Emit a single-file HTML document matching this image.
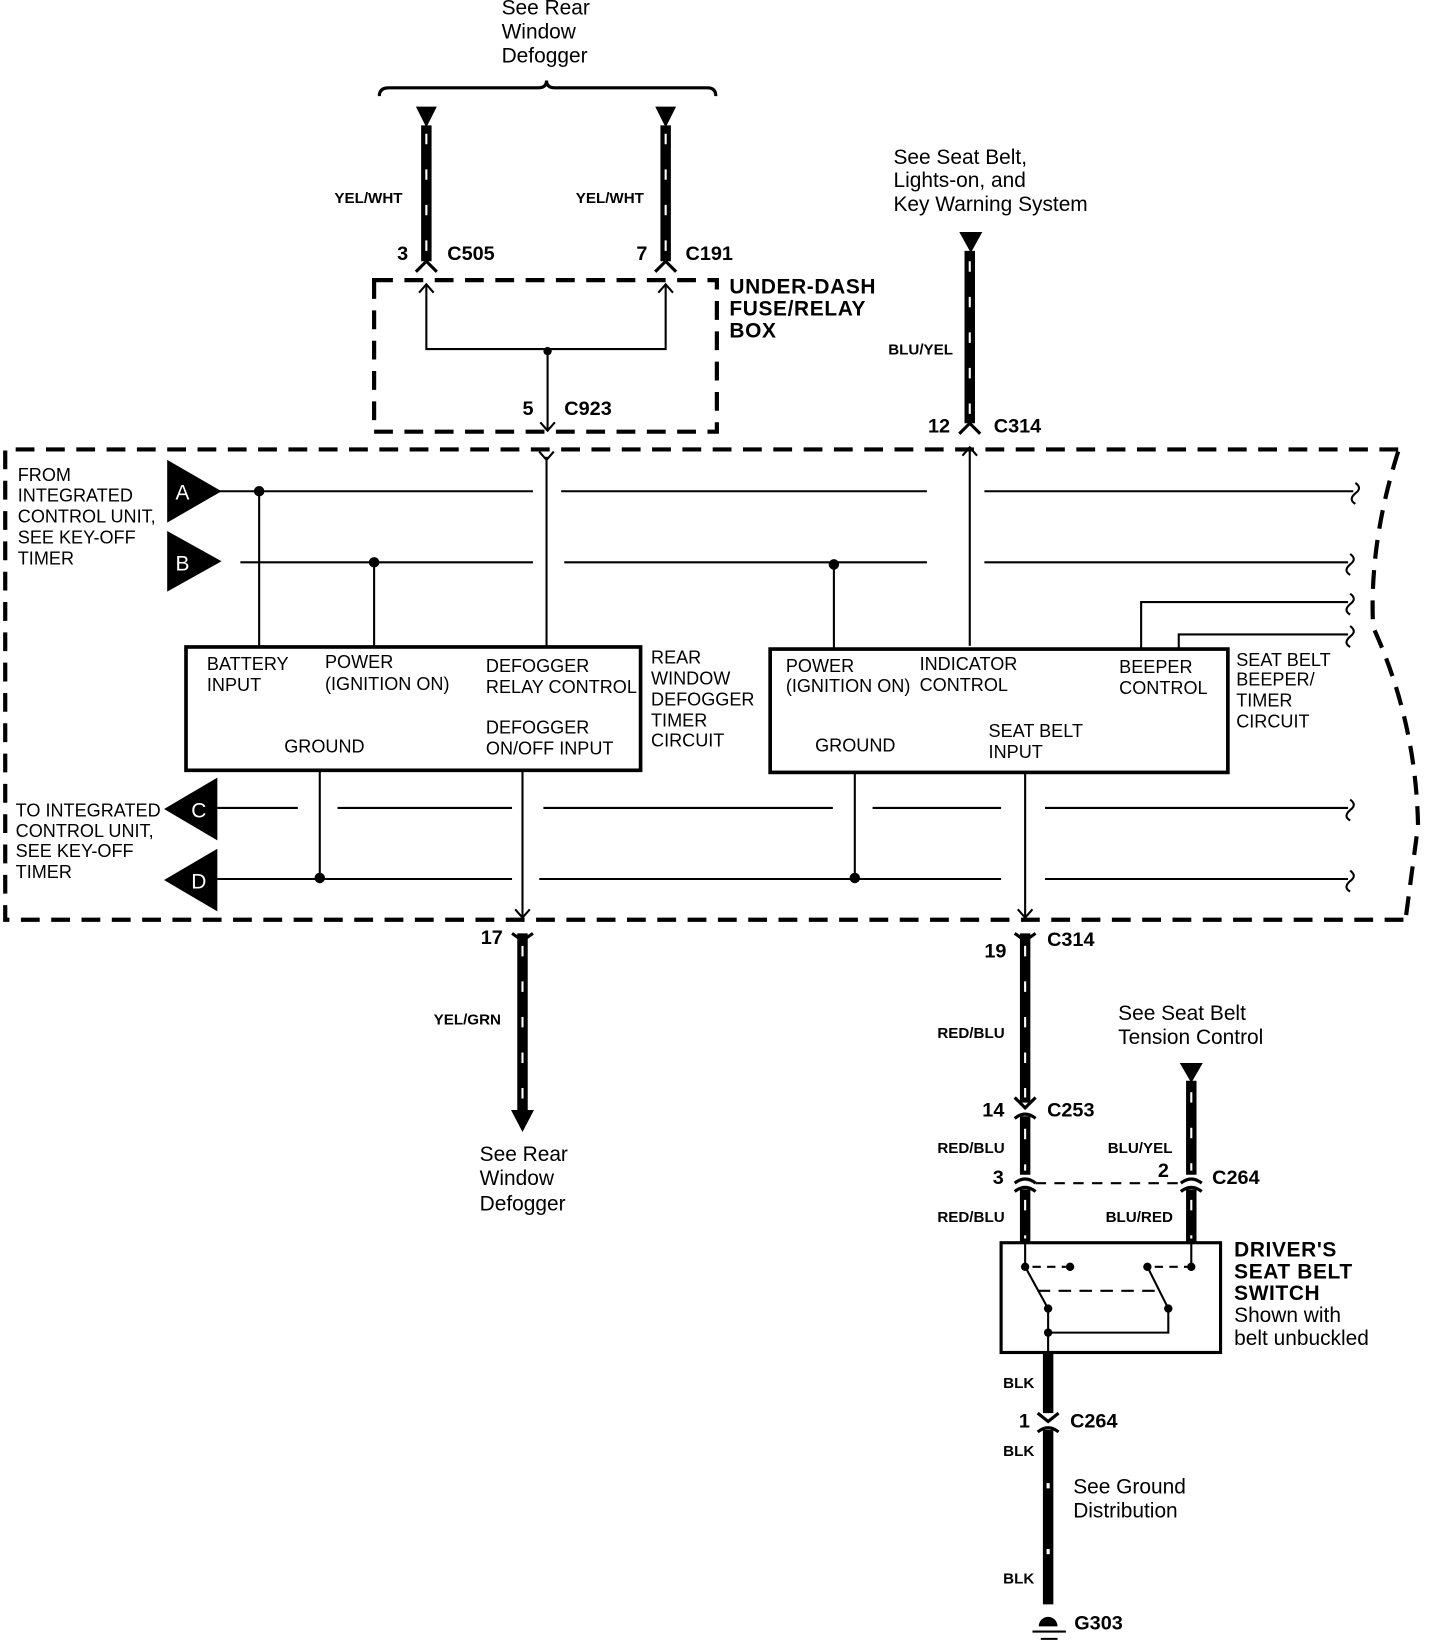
<!DOCTYPE html>
<html><head><meta charset="utf-8"><style>
html,body{margin:0;padding:0;background:#fff;}
svg{display:block;}
text{font-family:"Liberation Sans",sans-serif;fill:#000;}
.n{font-size:20px;}
.b{font-size:19px;font-weight:bold;}
.c{font-size:17.3px;}
.w{font-size:14.5px;font-weight:bold;}
.h{font-size:20px;font-weight:bold;letter-spacing:0.6px;}
</style></head><body>
<svg width="1440" height="1642" viewBox="0 0 1378 1571" preserveAspectRatio="none" xmlns="http://www.w3.org/2000/svg">
<g fill="none" stroke="#000">
<path d="M363,92 Q363,84 372,84 L515,84 Q523,84 523,77 Q523,84 531,84 L677,84 Q685,84 685,92" stroke-width="3"/>
<g stroke-width="10">
<line x1="408" y1="120" x2="408" y2="250"/>
<line x1="637" y1="120" x2="637" y2="250"/>
<line x1="928" y1="240" x2="928" y2="405"/>
<line x1="500" y1="893" x2="500" y2="1068"/>
<line x1="981" y1="893" x2="981" y2="1055"/>
<line x1="981" y1="1068" x2="981" y2="1124"/>
<line x1="981" y1="1138" x2="981" y2="1190"/>
<line x1="1140" y1="1034" x2="1140" y2="1124"/>
<line x1="1140" y1="1138" x2="1140" y2="1190"/>
<line x1="1003" y1="1294" x2="1003" y2="1352"/>
<line x1="1003" y1="1368" x2="1003" y2="1535"/>
</g>
<g stroke="#fff" stroke-width="2" stroke-dasharray="10,24">
<line x1="408" y1="128" x2="408" y2="245"/>
<line x1="637" y1="128" x2="637" y2="245"/>
<line x1="928" y1="250" x2="928" y2="400"/>
<line x1="500" y1="905" x2="500" y2="1060"/>
<line x1="981" y1="905" x2="981" y2="1050"/>
<line x1="981" y1="1080" x2="981" y2="1120"/>
<line x1="981" y1="1148" x2="981" y2="1185"/>
<line x1="1140" y1="1045" x2="1140" y2="1120"/>
<line x1="1140" y1="1148" x2="1140" y2="1185"/>
</g>
<g stroke="#fff" stroke-width="3"><line x1="1003" y1="1419" x2="1003" y2="1424"/><line x1="1003" y1="1482" x2="1003" y2="1487"/></g>
<g stroke-width="3">
<path d="M398,260 L408,250 L418,260"/>
<path d="M627,260 L637,250 L647,260"/>
<path d="M918,415 L928,405 L938,415"/>
<path d="M490,893 L500,900 L510,893"/>
<path d="M971,893 L981,900 L991,893"/>
<path d="M971,1050 L981,1060 L991,1050 M971,1070 Q981,1062 991,1070"/>
<path d="M971,1132 Q981,1124 991,1132 M971,1140 Q981,1132 991,1140"/>
<path d="M1130,1132 Q1140,1124 1150,1132 M1130,1140 Q1140,1132 1150,1140"/>
<path d="M993,1352 L1003,1360 L1013,1352 M993,1370 Q1003,1362 1013,1370"/>
</g>
<rect x="358" y="268" width="328" height="145" stroke-width="4" stroke-dasharray="18,11"/>
<g stroke-width="2">
<path d="M408,272 L408,334 L637,334 L637,272"/>
<path d="M401,280 L408,272 L415,280 M630,280 L637,272 L644,280"/>
<line x1="524" y1="336" x2="524" y2="412"/>
<path d="M517,404 L524,412 L531,404"/>
</g>
<path d="M1338,430 L5,430 L5,880 L1345,880" stroke-width="4" stroke-dasharray="18,11"/>
<path d="M1338,432 Q1310,520 1314,600 Q1355,690 1357,790 L1345,880" stroke-width="4" stroke-dasharray="18,11"/>
<g stroke-width="2">
<line x1="523" y1="437" x2="523" y2="618"/>
<path d="M516,432 L523,440 L530,432"/>
<line x1="928" y1="428" x2="928" y2="618"/>
<path d="M921,436 L928,428 L935,436"/>
<path d="M210,470 L510,470 M537,470 L887,470 M942,470 L1295,470"/>
<path d="M230,538 L510,538 M540,538 L887,538 M942,538 L1290,538"/>
<line x1="248" y1="470" x2="248" y2="618"/>
<line x1="358" y1="538" x2="358" y2="618"/>
<line x1="798" y1="540" x2="798" y2="620"/>
<path d="M1092,620 L1092,576 L1290,576"/>
<path d="M1128,620 L1128,607 L1290,607"/>
<path d="M208,773 L285,773 M323,773 L490,773 M520,773 L797,773 M835,773 L958,773 M1000,773 L1290,773"/>
<path d="M208,841 L490,841 M516,841 L958,841 M1000,841 L1290,841"/>
<line x1="306" y1="737" x2="306" y2="840"/>
<line x1="818" y1="739" x2="818" y2="840"/>
<line x1="500" y1="737" x2="500" y2="878"/>
<path d="M493,870 L500,878 L507,870"/>
<line x1="981" y1="739" x2="981" y2="878"/>
<path d="M974,870 L981,878 L988,870"/>
<path d="M1297,462 Q1304,467 1297,472 Q1290,478 1297,482"/>
<path d="M1292,530 Q1299,535 1292,540 Q1285,546 1292,550"/>
<path d="M1292,568 Q1299,573 1292,578 Q1285,584 1292,588"/>
<path d="M1292,599 Q1299,604 1292,609 Q1285,615 1292,619"/>
<path d="M1292,765 Q1299,770 1292,775 Q1285,781 1292,785"/>
<path d="M1292,833 Q1299,838 1292,843 Q1285,849 1292,853"/>
</g>
<rect x="178" y="619" width="435" height="118" stroke-width="3.5"/>
<rect x="737" y="621" width="438" height="118" stroke-width="3.5"/>
<line x1="991" y1="1132" x2="1130" y2="1132" stroke-width="2" stroke-dasharray="10,8"/>
<rect x="958" y="1189" width="210" height="105" stroke-width="3"/>
<g stroke-width="2">
<path d="M981,1190 L981,1212"/>
<path d="M1140,1190 L1140,1212"/>
<path d="M981,1212 L1003,1252"/>
<path d="M1098,1212 L1118,1252"/>
<path d="M988,1212 L1020,1212" stroke-dasharray="8,6"/>
<path d="M1105,1212 L1140,1212" stroke-dasharray="8,6"/>
<path d="M993,1235 L1110,1235" stroke-dasharray="12,8"/>
<path d="M1003,1252 L1003,1294 M1003,1275 L1118,1275 L1118,1252"/>
</g>
<line x1="988" y1="1561" x2="1020" y2="1561" stroke-width="2"/>
<line x1="996" y1="1568" x2="1012" y2="1568" stroke-width="2"/>
</g>
<g fill="#000">
<polygon points="398,102 418,102 408,122"/>
<polygon points="627,102 647,102 637,122"/>
<polygon points="918,222 940,222 929,242"/>
<polygon points="1129,1017 1151,1017 1140,1036"/>
<polygon points="489,1062 511,1062 500,1083"/>
<circle cx="524" cy="336" r="4"/>
<circle cx="248" cy="470" r="5"/><circle cx="358" cy="538" r="5"/><circle cx="798" cy="540" r="5"/>
<circle cx="306" cy="840" r="5"/><circle cx="818" cy="840" r="5"/>
<polygon points="160,440 160,500 212,470"/>
<polygon points="160,508 160,566 212,537"/>
<polygon points="208,744 208,804 157,774"/>
<polygon points="208,812 208,872 157,842"/>
<circle cx="981" cy="1212" r="4"/><circle cx="1024" cy="1212" r="4"/>
<circle cx="1098" cy="1212" r="4"/><circle cx="1140" cy="1212" r="4"/>
<circle cx="1003" cy="1252" r="4"/><circle cx="1118" cy="1252" r="4"/><circle cx="1003" cy="1275" r="4"/>
<path d="M994,1556 A9,9 0 0 1 1012,1556 Z"/>
</g>
<text x="168" y="478" class="n" style="fill:#fff">A</text>
<text x="168" y="546" class="n" style="fill:#fff">B</text>
<text x="183" y="782" class="n" style="fill:#fff">C</text>
<text x="183" y="850" class="n" style="fill:#fff">D</text>
<text x="480" y="14" class="n">See Rear</text>
<text x="480" y="37" class="n">Window</text>
<text x="480" y="60" class="n">Defogger</text>
<text x="855" y="157" class="n">See Seat Belt,</text>
<text x="855" y="179" class="n">Lights-on, and</text>
<text x="855" y="202" class="n">Key Warning System</text>
<text x="459" y="1111" class="n">See Rear</text>
<text x="459" y="1134" class="n">Window</text>
<text x="459" y="1158" class="n">Defogger</text>
<text x="1070" y="976" class="n">See Seat Belt</text>
<text x="1070" y="999" class="n">Tension Control</text>
<text x="1027" y="1429" class="n">See Ground</text>
<text x="1027" y="1452" class="n">Distribution</text>
<text x="1181" y="1265" class="n">Shown with</text>
<text x="1181" y="1287" class="n">belt unbuckled</text>
<text x="320" y="194" class="w">YEL/WHT</text>
<text x="551" y="194" class="w">YEL/WHT</text>
<text x="850" y="339" class="w">BLU/YEL</text>
<text x="415" y="980" class="w">YEL/GRN</text>
<text x="897" y="993" class="w">RED/BLU</text>
<text x="897" y="1103" class="w">RED/BLU</text>
<text x="897" y="1169" class="w">RED/BLU</text>
<text x="1060" y="1103" class="w">BLU/YEL</text>
<text x="1058" y="1169" class="w">BLU/RED</text>
<text x="960" y="1328" class="w">BLK</text>
<text x="960" y="1393" class="w">BLK</text>
<text x="960" y="1515" class="w">BLK</text>
<text x="380" y="249" class="b">3</text><text x="428" y="249" class="b">C505</text>
<text x="609" y="249" class="b">7</text><text x="656" y="249" class="b">C191</text>
<text x="500" y="397" class="b">5</text><text x="540" y="397" class="b">C923</text>
<text x="888" y="414" class="b">12</text><text x="951" y="414" class="b">C314</text>
<text x="460" y="903" class="b">17</text>
<text x="942" y="916" class="b">19</text><text x="1002" y="905" class="b">C314</text>
<text x="940" y="1068" class="b">14</text><text x="1002" y="1068" class="b">C253</text>
<text x="950" y="1133" class="b">3</text>
<text x="1108" y="1126" class="b">2</text><text x="1160" y="1133" class="b">C264</text>
<text x="975" y="1366" class="b">1</text><text x="1024" y="1366" class="b">C264</text>
<text x="1028" y="1559" class="b">G303</text>
<text x="698" y="281" class="h">UNDER-DASH</text>
<text x="698" y="302" class="h">FUSE/RELAY</text>
<text x="698" y="323" class="h">BOX</text>
<text x="1181" y="1202" class="h">DRIVER'S</text>
<text x="1181" y="1223" class="h">SEAT BELT</text>
<text x="1181" y="1244" class="h">SWITCH</text>
<text x="17" y="460" class="c">FROM</text>
<text x="17" y="480" class="c">INTEGRATED</text>
<text x="17" y="500" class="c">CONTROL UNIT,</text>
<text x="17" y="520" class="c">SEE KEY-OFF</text>
<text x="17" y="540" class="c">TIMER</text>
<text x="15" y="781" class="c">TO INTEGRATED</text>
<text x="15" y="801" class="c">CONTROL UNIT,</text>
<text x="15" y="820" class="c">SEE KEY-OFF</text>
<text x="15" y="840" class="c">TIMER</text>
<text x="198" y="641" class="c">BATTERY</text>
<text x="198" y="661" class="c">INPUT</text>
<text x="311" y="639" class="c">POWER</text>
<text x="311" y="660" class="c">(IGNITION ON)</text>
<text x="465" y="643" class="c">DEFOGGER</text>
<text x="465" y="663" class="c">RELAY CONTROL</text>
<text x="465" y="702" class="c">DEFOGGER</text>
<text x="465" y="722" class="c">ON/OFF INPUT</text>
<text x="272" y="720" class="c">GROUND</text>
<text x="623" y="635" class="c">REAR</text>
<text x="623" y="655" class="c">WINDOW</text>
<text x="623" y="675" class="c">DEFOGGER</text>
<text x="623" y="695" class="c">TIMER</text>
<text x="623" y="714" class="c">CIRCUIT</text>
<text x="752" y="643" class="c">POWER</text>
<text x="752" y="662" class="c">(IGNITION ON)</text>
<text x="880" y="641" class="c">INDICATOR</text>
<text x="880" y="661" class="c">CONTROL</text>
<text x="1071" y="644" class="c">BEEPER</text>
<text x="1071" y="664" class="c">CONTROL</text>
<text x="780" y="719" class="c">GROUND</text>
<text x="946" y="705" class="c">SEAT BELT</text>
<text x="946" y="725" class="c">INPUT</text>
<text x="1183" y="637" class="c">SEAT BELT</text>
<text x="1183" y="656" class="c">BEEPER/</text>
<text x="1183" y="676" class="c">TIMER</text>
<text x="1183" y="696" class="c">CIRCUIT</text>
</svg>
</body></html>
